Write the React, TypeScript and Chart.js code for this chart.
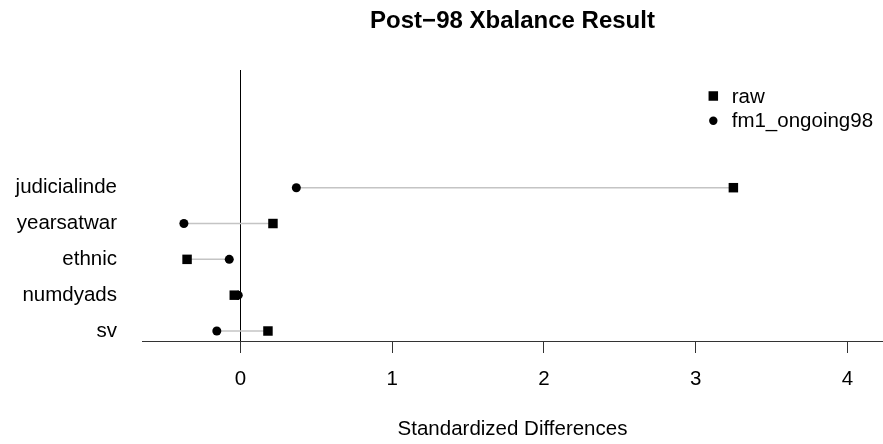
import React, { useEffect, useRef } from 'react';
import { Chart, registerables } from 'chart.js';

Chart.register(...registerables);

// ---- data ----
const variables = ['judicialinde', 'yearsatwar', 'ethnic', 'numdyads', 'sv'];
const rowPositions = [5, 4, 3, 2, 1];
const rawValues = [3.249, 0.215, -0.351, -0.04, 0.182];
const fm1Values = [0.369, -0.372, -0.073, -0.014, -0.155];
const xTicks = [0, 1, 2, 3, 4];
const seriesNames = ['raw', 'fm1_ongoing98'];
const titleText = 'Post\u221298 Xbalance Result';
const xAxisTitle = 'Standardized Differences';

const FONT = "'Liberation Sans', Arial, Helvetica, sans-serif";
const FS = 20.5;

const titlePlugin = {
  id: 'plotTitle',
  afterDraw(chart: any) {
    const { ctx, chartArea } = chart;
    ctx.save();
    ctx.font = `bold 24px ${FONT}`;
    ctx.fillStyle = '#000';
    ctx.textAlign = 'center';
    ctx.textBaseline = 'middle';
    ctx.fillText(titleText, (chartArea.left + chartArea.right) / 2, 21);
    ctx.restore();
  },
};

const legendPlugin = {
  id: 'rLegend',
  afterDraw(chart: any) {
    const { ctx, chartArea } = chart;
    const mx = chartArea.right - 169.7;
    const tx = chartArea.right - 151.3;
    const y0 = chartArea.top + 26;
    const dy = 24.8;
    ctx.save();
    ctx.fillStyle = '#000';
    ctx.fillRect(mx - 4.75, y0 - 4.75, 9.5, 9.5);
    ctx.beginPath();
    ctx.arc(mx, y0 + dy, 4.2, 0, Math.PI * 2);
    ctx.fill();
    ctx.font = `${FS}px ${FONT}`;
    ctx.textAlign = 'left';
    ctx.textBaseline = 'middle';
    ctx.fillText(seriesNames[0], tx, y0 + 1);
    ctx.fillText(seriesNames[1], tx, y0 + dy + 1);
    ctx.restore();
  },
};

export default function App() {
  const canvasRef = useRef<HTMLCanvasElement | null>(null);

  useEffect(() => {
    if (!canvasRef.current) return;
    Chart.defaults.font.family = FONT;
    Chart.defaults.font.size = FS;
    Chart.defaults.color = '#000';

    const segmentDatasets = variables.map((name, i) => ({
      label: name + ' segment',
      data: [
        { x: rawValues[i], y: rowPositions[i] },
        { x: fm1Values[i], y: rowPositions[i] },
      ],
      showLine: true,
      borderColor: '#c4c4c4',
      borderWidth: 1.5,
      pointRadius: 0,
      order: 2,
    }));

    const chart = new Chart(canvasRef.current, {
      type: 'scatter',
      data: {
        datasets: [
          {
            label: seriesNames[0],
            data: variables.map((_, i) => ({ x: rawValues[i], y: rowPositions[i] })),
            pointStyle: 'rect',
            pointRadius: 6.7,
            pointBorderWidth: 0,
            backgroundColor: '#000',
            borderColor: '#000',
            order: 1,
          },
          {
            label: seriesNames[1],
            data: variables.map((_, i) => ({ x: fm1Values[i], y: rowPositions[i] })),
            pointStyle: 'circle',
            pointRadius: 4.5,
            pointBorderWidth: 0,
            backgroundColor: '#000',
            borderColor: '#000',
            order: 0,
          },
          ...segmentDatasets,
        ] as any,
      },
      options: {
        animation: false,
        responsive: true,
        maintainAspectRatio: false,
        layout: { autoPadding: false, padding: { top: 70, left: 0, right: 0, bottom: 0 } },
        plugins: {
          legend: { display: false },
          title: { display: false },
          tooltip: { enabled: false },
        },
        scales: {
          x: {
            type: 'linear',
            min: -0.648,
            max: 4.235,
            afterBuildTicks: (s: any) => {
              s.ticks = xTicks.map((v) => ({ value: v }));
            },
            afterFit: (s: any) => {
              s.height = 103;
              s.paddingLeft = 0;
              s.paddingRight = 0;
            },
            ticks: {
              padding: 14,
              color: '#000',
              font: { size: FS },
              callback: (v: any) => String(v),
            },
            grid: {
              color: (c: any) => (c.tick && c.tick.value === 0 ? '#000' : 'rgba(0,0,0,0)'),
              lineWidth: 1,
              drawTicks: true,
              tickLength: 12,
              tickColor: '#333',
              tickWidth: 1,
            },
            border: { display: true, color: '#333', width: 1 },
            title: {
              display: true,
              text: xAxisTitle,
              color: '#000',
              font: { size: FS },
              padding: { top: 0, bottom: 2.7 },
            },
          },
          y: {
            type: 'linear',
            min: 0.721,
            max: 8.285,
            afterBuildTicks: (s: any) => {
              s.ticks = rowPositions.map((v) => ({ value: v }));
            },
            afterFit: (s: any) => {
              s.width = 142;
              s.paddingTop = 0;
              s.paddingBottom = 0;
            },
            ticks: {
              padding: 25,
              color: '#000',
              font: { size: FS },
              autoSkip: false,
              callback: (v: any) => variables[rowPositions.indexOf(v)] ?? '',
            },
            grid: { display: false, drawTicks: false },
            border: { display: false },
          },
        },
      } as any,
      plugins: [titlePlugin, legendPlugin],
    });

    return () => {
      chart.destroy();
    };
  }, []);

  return (
    <div style={{ position: 'absolute', left: 0, top: 0, width: 883, height: 444 }}>
      <canvas ref={canvasRef} />
    </div>
  );
}
